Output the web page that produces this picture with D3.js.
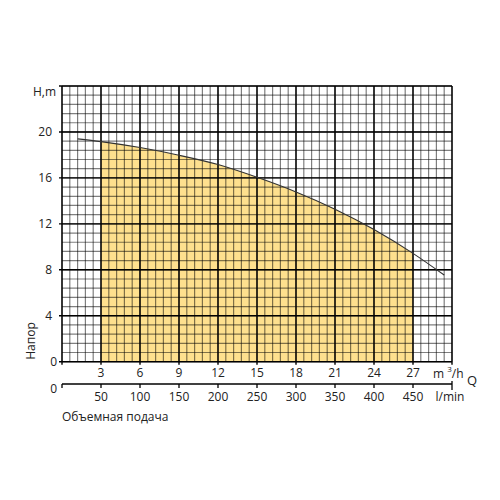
<!DOCTYPE html>
<html><head><meta charset="utf-8">
<script src="https://cdn.jsdelivr.net/npm/d3@7"></script>
<style>html,body{margin:0;padding:0;background:#fff;}</style>
</head><body>
<svg id="c" width="500" height="500"></svg>
<script>
const qTicks = [3, 6, 9, 12, 15, 18, 21, 24, 27];
const lminTicks = [50, 100, 150, 200, 250, 300, 350, 400, 450];
const hTicks = [4, 8, 12, 16, 20];
const curveQ = [1.2, 3, 6, 9, 12, 15, 18, 21, 24, 27, 29.4];
const curveH = [19.4, 19.16, 18.64, 17.97, 17.16, 16.05, 14.78, 13.28, 11.51, 9.43, 7.54];
const fillRange = [3, 27];

const svg = d3.select("#c");
const font = "'Open Sans', sans-serif";
const x = d3.scaleLinear().domain([0, 30]).range([62, 452]);
const y = d3.scaleLinear().domain([0, 24]).range([361.7, 86]);
const xl = d3.scaleLinear().domain([0, 500]).range([62, 452]);

const pts = curveQ.map((q, i) => ({q, h: curveH[i]}));
const fillPts = pts.filter(d => d.q >= fillRange[0] && d.q <= fillRange[1]);

svg.append("path")
  .datum(fillPts)
  .attr("fill", "#fee08e")
  .attr("d", d3.area().x(d => x(d.q)).y0(y(0)).y1(d => y(d.h)).curve(d3.curveMonotoneX));

// minor grid
const g = svg.append("g");
const minorX = d3.range(0, 30.001, 0.6);
const minorY = d3.range(0, 24.001, 0.8);
g.selectAll(".vx").data(minorX).join("line")
  .attr("x1", d => x(d)).attr("x2", d => x(d)).attr("y1", y(24)).attr("y2", y(0))
  .attr("stroke", "#000").attr("stroke-opacity", 0.5).attr("stroke-width", 1.2);
g.selectAll(".hy").data(minorY).join("line")
  .attr("y1", d => y(d)).attr("y2", d => y(d)).attr("x1", x(0)).attr("x2", x(30))
  .attr("stroke", "#000").attr("stroke-opacity", 0.5).attr("stroke-width", 1.2);
// major grid
const majorX = [0].concat(qTicks, [30]);
const majorY = [0].concat(hTicks, [24]);
g.selectAll(".mx").data(majorX).join("line")
  .attr("x1", d => x(d)).attr("x2", d => x(d)).attr("y1", y(24)).attr("y2", y(0) + 3)
  .attr("stroke", "#000").attr("stroke-width", 1.4);
g.selectAll(".my").data(majorY).join("line")
  .attr("y1", d => y(d)).attr("y2", d => y(d)).attr("x1", x(0) - 3).attr("x2", x(30))
  .attr("stroke", "#000").attr("stroke-width", 1.4);

// curve
svg.append("path")
  .datum(pts)
  .attr("fill", "none").attr("stroke", "#333").attr("stroke-width", 1.1)
  .attr("d", d3.line().x(d => x(d.q)).y(d => y(d.h)).curve(d3.curveMonotoneX));

// y labels
svg.selectAll(".yl").data(hTicks).join("text")
  .attr("x", 52).attr("y", d => y(d)).attr("dy", "0.35em")
  .attr("text-anchor", "end").attr("font-family", font).attr("font-size", 12).attr("fill", "#222")
  .text(d => d);
svg.append("text").attr("x", 56).attr("y", 96).attr("text-anchor", "end")
  .attr("font-family", font).attr("font-size", 12).attr("fill", "#222").text("H,m");
svg.append("text").attr("x", 57).attr("y", y(0)).attr("dy", "0.35em").attr("text-anchor", "end")
  .attr("font-family", font).attr("font-size", 12).attr("fill", "#222").text("0");

// x labels (m3/h)
svg.selectAll(".xq").data(qTicks).join("text")
  .attr("x", d => x(d)).attr("y", 377)
  .attr("text-anchor", "middle").attr("font-family", font).attr("font-size", 12).attr("fill", "#222")
  .text(d => d);

// second axis (l/min)
const ax2 = svg.append("g");
ax2.append("line").attr("x1", xl(0)).attr("x2", xl(500)).attr("y1", 384).attr("y2", 384)
  .attr("stroke", "#000").attr("stroke-width", 1.3);
ax2.selectAll(".t2").data([0].concat(lminTicks)).join("line")
  .attr("x1", d => xl(d)).attr("x2", d => xl(d)).attr("y1", 384).attr("y2", 388)
  .attr("stroke", "#000").attr("stroke-width", 1.3);
ax2.append("line").attr("x1", xl(500)).attr("x2", xl(500)).attr("y1", 381).attr("y2", 390)
  .attr("stroke", "#000").attr("stroke-width", 1.3);
svg.selectAll(".xl").data(lminTicks).join("text")
  .attr("x", d => xl(d)).attr("y", 401)
  .attr("text-anchor", "middle").attr("font-family", font).attr("font-size", 12).attr("fill", "#222")
  .text(d => d);
svg.append("text").attr("x", 57).attr("y", 389).attr("dy", "0.35em").attr("text-anchor", "end")
  .attr("font-family", font).attr("font-size", 12).attr("fill", "#222").text("0");

// units
const mt = svg.append("text").attr("x", 433).attr("y", 378)
  .attr("font-family", font).attr("font-size", 12).attr("fill", "#222");
mt.append("tspan").text("m ");
mt.append("tspan").attr("dy", -6).attr("font-size", 8).text("3");
mt.append("tspan").attr("dy", 6).text("/h");
svg.append("text").attr("x", 467).attr("y", 385)
  .attr("font-family", font).attr("font-size", 13).attr("fill", "#222").text("Q");
svg.append("text").attr("x", 450).attr("y", 401).attr("text-anchor", "middle")
  .attr("font-family", font).attr("font-size", 12).attr("fill", "#222").text("l/min");

svg.append("text").attr("x", 62).attr("y", 421)
  .attr("font-family", font).attr("font-size", 12).attr("fill", "#222").text("Объемная подача");
svg.append("text").attr("transform", "translate(35,341) rotate(-90)").attr("text-anchor", "middle")
  .attr("font-family", font).attr("font-size", 12).attr("fill", "#222").text("Напор");
</script>
</body></html>
